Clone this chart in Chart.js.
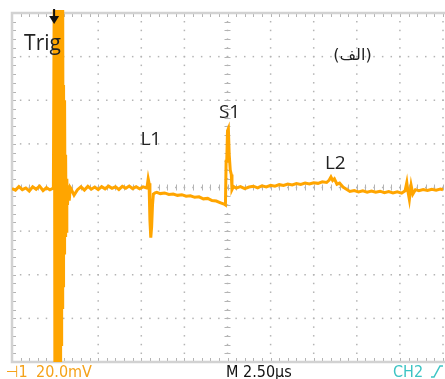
<!DOCTYPE html>
<html>
<head>
<meta charset="utf-8">
<script src="https://cdn.jsdelivr.net/npm/chart.js@4"></script>
<style>
  html, body { margin: 0; padding: 0; background: #fff; }
  #wrap { width: 445px; height: 379px; position: relative; }
</style>
</head>
<body>
<div id="wrap"><canvas id="scope"></canvas></div>
<script>
// time axis in microseconds (10 div x 2.5 us), volts in mV (8 div x 20 mV)
var timeUs = [
  0, 0.2, 0.4, 0.6, 0.8, 1.0, 1.2, 1.4, 1.6, 1.8, 2.0, 2.2, 2.4,
  2.46, 2.49, 2.52, 2.55, 2.58, 2.61, 2.64, 2.67, 2.70, 2.73, 2.76, 2.79, 2.82,
  2.85, 2.88, 2.91, 2.94, 2.97, 2.99, 3.02, 3.05, 3.08, 3.11, 3.14, 3.18, 3.22,
  3.27, 3.32, 3.38,
  3.42, 3.6, 3.8, 4.0, 4.2, 4.4, 4.6, 4.8, 5.0, 5.2, 5.4, 5.6, 5.8, 6.0, 6.2,
  6.4, 6.6, 6.8, 7.0, 7.2, 7.4, 7.6, 7.8,
  7.85, 7.9, 7.95, 8.0, 8.05, 8.1, 8.15, 8.2, 8.3, 8.4,
  8.6, 8.85, 9.1, 9.35, 9.6, 9.85, 10.1, 10.35, 10.6, 10.85, 11.1, 11.35, 11.6,
  11.85, 12.1, 12.3,
  12.38, 12.42, 12.46, 12.5, 12.55, 12.6, 12.66, 12.72, 12.76, 12.85,
  13.0, 13.25, 13.5, 13.75, 14.0, 14.25, 14.5, 14.75, 15.0, 15.25, 15.5, 15.75,
  16.0, 16.25, 16.5, 16.75, 17.0, 17.25, 17.5, 17.75, 18.0, 18.25, 18.4, 18.5,
  18.6, 18.7, 18.85, 19.0, 19.2, 19.4, 19.6, 19.85, 20.1, 20.35, 20.6, 20.85,
  21.1, 21.35, 21.6, 21.85, 22.1, 22.35, 22.6, 22.8, 22.9, 22.95, 23.05, 23.15,
  23.25, 23.4, 23.6, 23.85, 24.1, 24.35, 24.6, 24.85, 25.0
];
var voltMv = [
  -0.5, -1.2, 0.4, -1.0, -0.2, -1.6, 0.3, -0.8, 0.6, -1.4, -0.1, -1.1, -0.3,
  110, -110, 110, -110, 110, -110, 110, -105, 108, -98, 105, -88, 100,
  -72, 95, -55, 90, -45, 47, -30, 40, -22, 15, -20, 4, -8,
  1, -6, 0,
  -0.5, -3.5, -1.0, 0.3, -1.2, 0.5, -0.8, 0.2, -1.0, 0.4, -0.6, 0.6, -0.4, 0.3, -0.9,
  0.5, -0.3, 0.7, -0.5, 0.4, -0.6, 0.3, -0.2,
  1, 4, 2, -15, -23, -18, -8, -3, -2.5, -2.2,
  -2.8, -2.5, -3.2, -3.0, -3.6, -3.3, -4.0, -3.8, -4.5, -4.3, -5.2, -5.0, -6.0,
  -6.2, -7.0, -7.6,
  -8, 12, 13, 26, 27, 15, 8, 6, -1, 0.5,
  -0.3, 0.4, -0.5, 0.2, 0.6, -0.2, 0.8, 0.3, 1.0, 0.6, 1.3, 0.9,
  1.6, 1.2, 1.8, 1.4, 2.0, 1.6, 2.2, 1.9, 2.6, 2.3, 3.4, 4.8,
  3.2, 4.0, 1.5, 2.0, 0.2, -0.8, -1.8, -1.4, -2.0, -1.5, -2.1, -1.6,
  -2.2, -1.7, -2.4, -1.9, -2.5, -2.0, -2.6, -1.5, 2.3, -1.0, -5.5, 1.0,
  -3.0, -1.0, -1.5, -0.9, -1.4, -0.8, -1.2, -0.7, -1.0
];

var channelLabel = "\u22A31";
var voltsPerDiv = "20.0mV";
var timePerDiv = "M 2.50\u00B5s";
var sourceLabel = "CH2";
var triggerTime = 2.5;

var noteLabels = [
  { text: "Trig", t: 0.7, v: 63, size: 21 },
  { text: "L1", t: 7.45, v: 19.5, size: 19 },
  { text: "S1", t: 12.0, v: 32, size: 19 },
  { text: "L2", t: 18.15, v: 8.5, size: 19 },
  { text: "(\u0627\u0644\u0641)", t: 19.75, v: 58.5, size: 16, arabic: true }
];

var points = timeUs.map(function (t, i) { return { x: t, y: voltMv[i] }; });

var orange = "#ffa500";
var dotColor = "#b4b4b4";

var graticule = {
  id: "graticule",
  beforeDatasetsDraw: function (chart) {
    var ctx = chart.ctx, a = chart.chartArea;
    var xs = chart.scales.x, ys = chart.scales.y;
    ctx.save();
    ctx.fillStyle = dotColor;
    // dotted division lines (the right edge is a dotted line too)
    for (var k = 1; k <= 10; k++) {
      var px = xs.getPixelForValue(k * 2.5);
      for (var m = -80; m <= 80; m += 4) {
        var py = ys.getPixelForValue(m);
        ctx.fillRect(px - 0.75, py - 0.75, 1.5, 1.5);
      }
    }
    for (var j = 1; j < 8; j++) {
      var py2 = ys.getPixelForValue(-80 + j * 20);
      for (var n = 0; n <= 25; n += 0.5) {
        var px2 = xs.getPixelForValue(n);
        ctx.fillRect(px2 - 0.75, py2 - 0.75, 1.5, 1.5);
      }
    }
    // centre ticks and edge ticks
    ctx.strokeStyle = dotColor;
    ctx.lineWidth = 1;
    var cx = xs.getPixelForValue(12.5), cy = ys.getPixelForValue(0);
    ctx.beginPath();
    for (var n2 = 0; n2 <= 25; n2 += 0.5) {
      var tx = Math.round(xs.getPixelForValue(n2)) + 0.5;
      ctx.moveTo(tx, cy - 3); ctx.lineTo(tx, cy + 3);
      ctx.moveTo(tx, a.top); ctx.lineTo(tx, a.top + 4);
      ctx.moveTo(tx, a.bottom); ctx.lineTo(tx, a.bottom - 4);
    }
    for (var m2 = -80; m2 <= 80; m2 += 4) {
      var ty = Math.round(ys.getPixelForValue(m2)) + 0.5;
      ctx.moveTo(cx - 3, ty); ctx.lineTo(cx + 3, ty);
      ctx.moveTo(a.left, ty); ctx.lineTo(a.left + 4, ty);
    }
    ctx.stroke();
    // frame: left, top, bottom
    ctx.strokeStyle = "#d2d2d2";
    ctx.lineWidth = 2.5;
    ctx.beginPath();
    ctx.moveTo(a.right + 2, a.top); ctx.lineTo(a.left, a.top);
    ctx.lineTo(a.left, a.bottom); ctx.lineTo(a.right + 2, a.bottom);
    ctx.stroke();
    ctx.restore();
  },
  afterDatasetsDraw: function (chart) {
    var ctx = chart.ctx, a = chart.chartArea;
    var xs = chart.scales.x, ys = chart.scales.y;
    ctx.save();
    // trigger marker
    var tx = xs.getPixelForValue(triggerTime) - 1;
    ctx.strokeStyle = "#111";
    ctx.fillStyle = "#111";
    ctx.lineWidth = 2;
    ctx.beginPath();
    ctx.moveTo(tx, a.top - 4); ctx.lineTo(tx, a.top + 5);
    ctx.stroke();
    ctx.beginPath();
    ctx.moveTo(tx - 5, a.top + 3); ctx.lineTo(tx + 5, a.top + 3); ctx.lineTo(tx, a.top + 11);
    ctx.closePath();
    ctx.fill();
    // notes
    ctx.fillStyle = "#222";
    ctx.textBaseline = "alphabetic";
    noteLabels.forEach(function (l) {
      ctx.font = l.size + "px " + (l.arabic ? '"DejaVu Sans"' : '"Open Sans", sans-serif');
      ctx.textAlign = l.arabic ? "center" : "left";
      ctx.fillText(l.text, xs.getPixelForValue(l.t), ys.getPixelForValue(l.v));
    });
    // status bar
    var by = a.bottom + 15;
    ctx.font = '16px "Liberation Sans Narrow", "DejaVu Sans Condensed", sans-serif';
    ctx.textAlign = "left";
    ctx.fillStyle = "#f5a21a";
    ctx.fillText(channelLabel, 6, by);
    ctx.fillText(voltsPerDiv, 36, by);
    ctx.fillStyle = "#111";
    ctx.fillText(timePerDiv, 226, by);
    ctx.fillStyle = "#3cc4c4";
    ctx.fillText(sourceLabel, 393, by);
    ctx.strokeStyle = "#3cc4c4";
    ctx.lineWidth = 1.5;
    ctx.beginPath();
    ctx.moveTo(431, by); ctx.lineTo(434, by); ctx.lineTo(440, by - 11); ctx.lineTo(443, by - 11);
    ctx.stroke();
    ctx.restore();
  }
};

var scope = new Chart(document.getElementById("scope").getContext("2d"), {
  type: "line",
  data: {
    datasets: [{
      data: points,
      borderColor: orange,
      borderWidth: 3,
      pointRadius: 0,
      tension: 0,
      fill: false,
      clip: { left: 0, top: 3, right: 2, bottom: 0 }
    }]
  },
  options: {
    responsive: true,
    maintainAspectRatio: false,
    animation: false,
    layout: { padding: { left: 12, right: 2, top: 13, bottom: 17 } },
    plugins: { legend: { display: false }, tooltip: { enabled: false } },
    scales: {
      x: { type: "linear", min: 0, max: 25, display: false },
      y: { min: -80, max: 80, display: false }
    }
  },
  plugins: [graticule]
});
</script>
</body>
</html>
